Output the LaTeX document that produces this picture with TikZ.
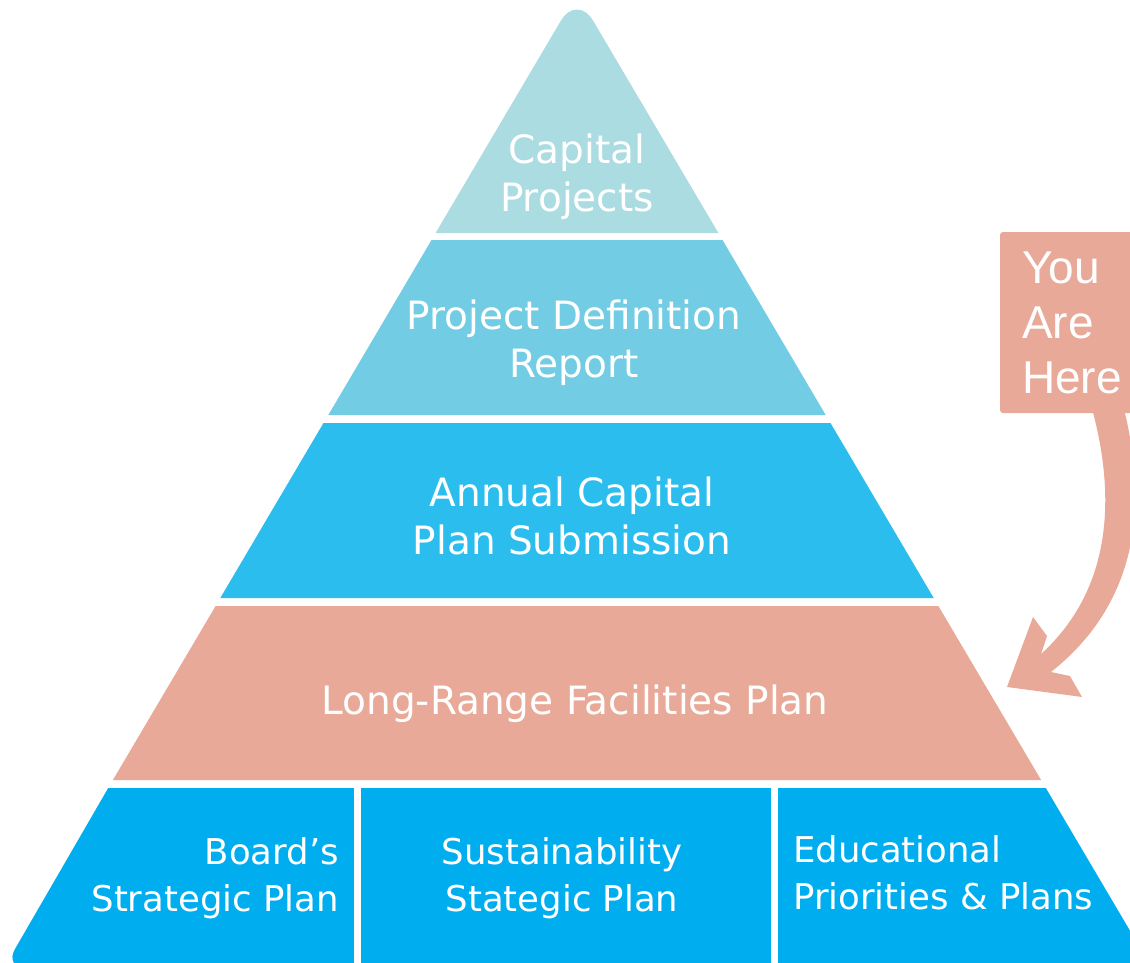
\documentclass[tikz,border=0pt]{standalone}
\usepackage{fontspec}
\setmainfont{DejaVu Sans}
\newfontfamily\arialfont{Liberation Sans}
\definecolor{bandA}{HTML}{AADCE1}
\definecolor{bandB}{HTML}{72CDE4}
\definecolor{bandC}{HTML}{2ABDEE}
\definecolor{bandD}{HTML}{E9A998}
\definecolor{bandE}{HTML}{00AEEF}
\tikzset{
  lbl/.style={text=white, font=\fontsize{39}{48}\selectfont, align=center, inner sep=0pt},
  baselbl/.style={lbl, font=\fontsize{35.5}{47}\selectfont},
  herelbl/.style={text=white, font=\arialfont\fontsize{46}{55}\selectfont, align=left, inner sep=0pt},
  gap/.style={draw=white, line width=7pt}
}
\begin{document}
\begin{tikzpicture}[x=1pt,y=-1pt]
\useasboundingbox (0,0) rectangle (1130,962);
\clip (0,0) rectangle (1130,962);
% pyramid bands
\fill[bandA] (435.6,233) [rounded corners=32pt] -- (577,-6.6) [sharp corners] -- (718.4,233) -- cycle;
\fill[bandB] (431.5,240) -- (722.5,240) -- (825.7,415) -- (328.3,415) -- cycle;
\fill[bandC] (323.5,423) -- (830.5,423) -- (933.7,598) -- (220.3,598) -- cycle;
\fill[bandD] (215.6,606) -- (938.4,606) -- (1041.1,780) -- (112.9,780) -- cycle;
\fill[bandE] (108.2,788) -- (1045.8,788) -- (1152,968) [rounded corners=22pt] -- (4,968) [sharp corners] -- cycle;
\draw[gap] (357.5,786) -- (357.5,975);
\draw[gap] (774.5,786) -- (774.5,975);
% labels
\node[lbl] (cap) at (577,177) {Capital\\Projects};
\node[lbl] (pdr) at (574,343) {Project Definition\\Report};
\node[lbl] (acp) at (572,516) {Annual Capital\\Plan Submission};
\node[lbl] (lrfp) at (575,704) {Long-Range Facilities Plan};
\node[baselbl, align=right, anchor=east] (board) at (339,878) {Board’s\\Strategic Plan};
\node[baselbl] (sust) at (562,878) {Sustainability\\Stategic Plan};
\node[baselbl, align=left, anchor=west] (edu) at (793,873) {Educational\\Priorities \& Plans};
% you are here
\fill[bandD, rounded corners=3pt] (1000,232) rectangle (1150,413);
\node[herelbl, anchor=west] (here) at (1022,322.5) {You\\Are\\Here};
\fill[bandD] (1007,687) -- (1033,617) -- (1047,636) -- (1041,654)
  .. controls (1120,582) and (1112,480) .. (1091,405) -- (1123,405)
  .. controls (1142,480) and (1152,592) .. (1051,672)
  -- (1070,676) -- (1082,697) -- cycle;
\end{tikzpicture}
\end{document}
